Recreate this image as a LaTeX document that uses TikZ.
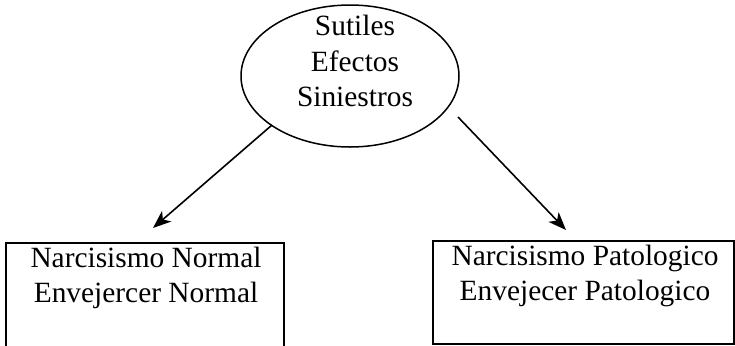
\documentclass[tikz,border=0pt]{standalone}
\usepackage{fontspec}
\setmainfont{Liberation Serif}
\usetikzlibrary{arrows.meta,shapes.geometric}
\begin{document}
\begin{tikzpicture}[x=1bp,y=-1bp,
  txt/.style={anchor=base,inner sep=0pt,font=\fontsize{29.5}{35}\selectfont},
  boxshape/.style={draw,line width=1.6bp,inner sep=0pt,outer sep=0pt,anchor=north west},
  arr/.style={line width=1.6bp,-{Stealth[length=18bp,width=14bp,inset=5bp]}}]
\useasboundingbox (0,0) rectangle (735,345);
\clip (0,0) rectangle (735,345);
% ellipse
\node[draw,ellipse,line width=1.5bp,inner sep=0pt,outer sep=0pt,
      minimum width=218bp,minimum height=142bp] (e) at (350,76) {};
\node[txt] (e1) at (355,35) {Sutiles};
\node[txt] (e2) at (355,71) {Efectos};
\node[txt] (e3) at (355,106) {Siniestros};
% boxes
\node[boxshape,minimum width=278bp,minimum height=140bp] (lb) at (6,243) {};
\node[txt] (l1) at (146,267) {Narcisismo Normal};
\node[txt] (l2) at (146,302) {Envejercer Normal};
\node[boxshape,minimum width=301bp,minimum height=103bp] (rb) at (433,241) {};
\node[txt] (r1) at (585,265) {Narcisismo Patologico};
\node[txt] (r2) at (585,300) {Envejecer Patologico};
% arrows
\coordinate (ls) at (272,125);
\coordinate (lt) at (153,228);
\coordinate (rs) at (458,117);
\coordinate (rt) at (566,230);
\draw[arr] (ls) -- (lt);
\draw[arr] (rs) -- (rt);
\end{tikzpicture}
\end{document}
